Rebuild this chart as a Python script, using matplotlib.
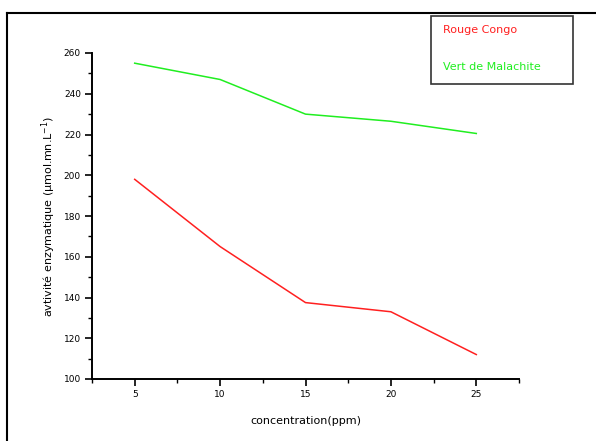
import matplotlib.pyplot as plt
from matplotlib.lines import Line2D
from matplotlib.patches import Rectangle
from matplotlib.ticker import MultipleLocator

concentration = [5, 10, 15, 20, 25]
rouge_congo = [198, 165, 137.5, 133, 112]
vert_malachite = [255, 247, 230, 226.5, 220.5]

fig = plt.figure(figsize=(5.96, 4.41), dpi=100)
ax = fig.add_axes([92 / 596, 1 - 379 / 441, (519 - 92) / 596, (379 - 53) / 441])

ax.plot(concentration, rouge_congo, color='#ff2020', lw=1.1)
ax.plot(concentration, vert_malachite, color='#20ee20', lw=1.1)

ax.set_xlim(2.5, 27.5)
ax.set_ylim(100, 260)
ax.xaxis.set_major_locator(MultipleLocator(5))
ax.xaxis.set_minor_locator(MultipleLocator(2.5))
ax.yaxis.set_major_locator(MultipleLocator(20))
ax.yaxis.set_minor_locator(MultipleLocator(10))
ax.set_xticks([5, 10, 15, 20, 25])
ax.set_xticklabels(['5', '10', '15', '20', '25'])

for s in ['top', 'right']:
    ax.spines[s].set_visible(False)
for s in ['left', 'bottom']:
    ax.spines[s].set_linewidth(1.4)
ax.tick_params(which='major', direction='out', length=5, width=1.2, labelsize=6.5, pad=3)
ax.tick_params(which='minor', direction='out', length=3, width=1.0)

ax.set_xlabel('concentration(ppm)', fontsize=8, labelpad=12)
ax.set_ylabel('avtivité enzymatique (µmol.mn.L$^{-1}$)', fontsize=8, labelpad=4)

# legend box with coloured text only
fig.patches.append(Rectangle((431 / 596, 1 - 84 / 441), 142 / 596, 68 / 441,
                             transform=fig.transFigure, fill=False,
                             edgecolor='#333333', lw=1.2))
fig.text(443 / 596, 1 - 30 / 441, 'Rouge Congo', color='#ff2020', fontsize=8, va='center')
fig.text(443 / 596, 1 - 67 / 441, 'Vert de Malachite', color='#20ee20', fontsize=8, va='center')

# outer frame
fig.add_artist(Line2D([7 / 596, 1.0], [1 - 13 / 441, 1 - 13 / 441], transform=fig.transFigure,
                      color='black', lw=1.5))
fig.add_artist(Line2D([7 / 596, 7 / 596], [0, 1 - 13 / 441], transform=fig.transFigure,
                      color='black', lw=1.5))

plt.savefig('out.png', dpi=100)
